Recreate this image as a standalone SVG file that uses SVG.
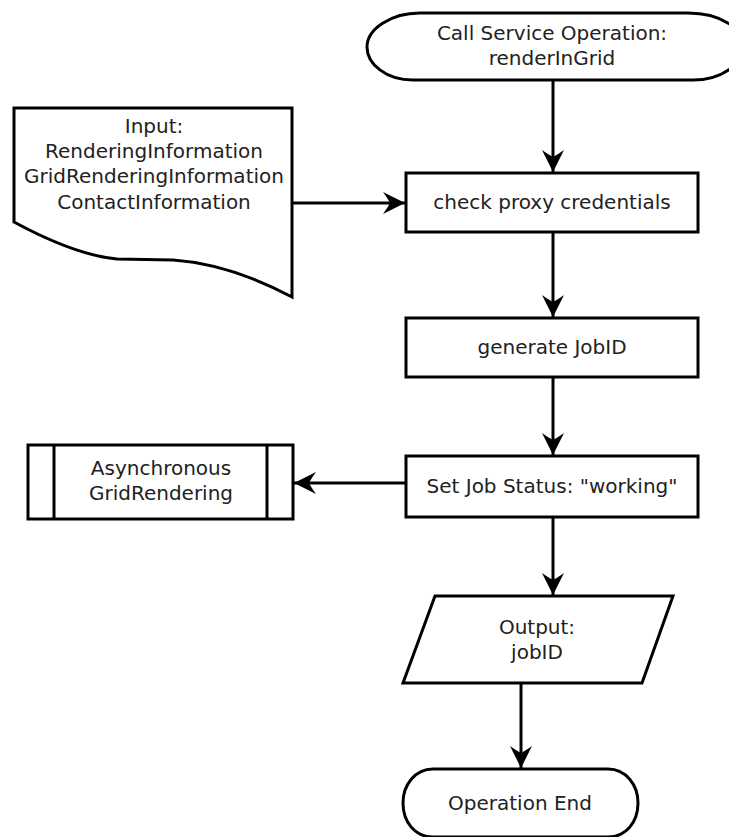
<svg xmlns="http://www.w3.org/2000/svg" width="729" height="837" viewBox="0 0 729 837">
  <style>
    .shape { fill: #ffffff; stroke: #000000; stroke-width: 3; stroke-linejoin: miter; }
    .edge { fill: none; stroke: #000000; stroke-width: 3; }
    .label { font-family: "DejaVu Sans", "Liberation Sans", sans-serif; font-size: 20px; fill: #222222; text-anchor: middle; }
  </style>
  <defs>
    <marker id="arrow" markerUnits="userSpaceOnUse" markerWidth="26" markerHeight="26" viewBox="-24 -13 26 26" refX="0" refY="0" orient="auto">
      <path d="M0,0 L-22,-11 Q-17,-4 -15,0 Q-17,4 -22,11 Z" fill="#000000"/>
    </marker>
  </defs>
  <rect width="729" height="837" fill="#ffffff"/>

  <!-- connectors -->
  <g id="connectors">
    <line class="edge" x1="553" y1="80" x2="553" y2="172" marker-end="url(#arrow)"/>
    <line class="edge" x1="292" y1="203" x2="405" y2="203" marker-end="url(#arrow)"/>
    <line class="edge" x1="553" y1="232" x2="553" y2="317" marker-end="url(#arrow)"/>
    <line class="edge" x1="553" y1="377" x2="553" y2="455" marker-end="url(#arrow)"/>
    <line class="edge" x1="406" y1="483" x2="294" y2="483" marker-end="url(#arrow)"/>
    <line class="edge" x1="553" y1="517" x2="553" y2="595" marker-end="url(#arrow)"/>
    <line class="edge" x1="521" y1="683" x2="521" y2="768" marker-end="url(#arrow)"/>
  </g>

  <!-- start terminator -->
  <g id="start">
    <path class="shape" d="M420,13 L688,13 C722,13 744,30 744,46 C744,63 722,80 693,80 L413,80 C386,80 367,64 367,47 C367,29 391,13 420,13 Z"/>
    <text class="label" x="552" y="40">Call Service Operation:</text>
    <text class="label" x="552" y="65">renderInGrid</text>
  </g>

  <!-- input document -->
  <g id="input">
    <path class="shape" d="M14,108 L292,108 L292,297 Q230,264 173,260 L117,259 Q75,255 14,222 Z"/>
    <text class="label" x="154" y="133">Input:</text>
    <text class="label" x="154" y="158">RenderingInformation</text>
    <text class="label" x="154" y="183">GridRenderingInformation</text>
    <text class="label" x="154" y="209">ContactInformation</text>
  </g>

  <!-- check proxy credentials -->
  <g id="check">
    <rect class="shape" x="406" y="173" width="292" height="59"/>
    <text class="label" x="552" y="209">check proxy credentials</text>
  </g>

  <!-- generate JobID -->
  <g id="generate">
    <rect class="shape" x="406" y="318" width="292" height="59"/>
    <text class="label" x="552" y="354">generate JobID</text>
  </g>

  <!-- set job status -->
  <g id="status">
    <rect class="shape" x="406" y="456" width="292" height="61"/>
    <text class="label" x="552" y="493">Set Job Status: "working"</text>
  </g>

  <!-- asynchronous subprocess -->
  <g id="async">
    <rect class="shape" x="28" y="445" width="265" height="74"/>
    <line class="edge" x1="54" y1="445" x2="54" y2="519"/>
    <line class="edge" x1="267" y1="445" x2="267" y2="519"/>
    <text class="label" x="161" y="475">Asynchronous</text>
    <text class="label" x="161" y="500">GridRendering</text>
  </g>

  <!-- output -->
  <g id="output">
    <path class="shape" d="M435,596 L673,596 L642,683 L403,683 Z"/>
    <text class="label" x="537" y="634">Output:</text>
    <text class="label" x="537" y="659">jobID</text>
  </g>

  <!-- end terminator -->
  <g id="end">
    <path class="shape" d="M433,769 L608,769 C626,769 638,785 638,803 C638,822 626,837 608,837 L433,837 C415,837 403,822 403,803 C403,785 415,769 433,769 Z"/>
    <text class="label" x="520" y="810">Operation End</text>
  </g>
</svg>
